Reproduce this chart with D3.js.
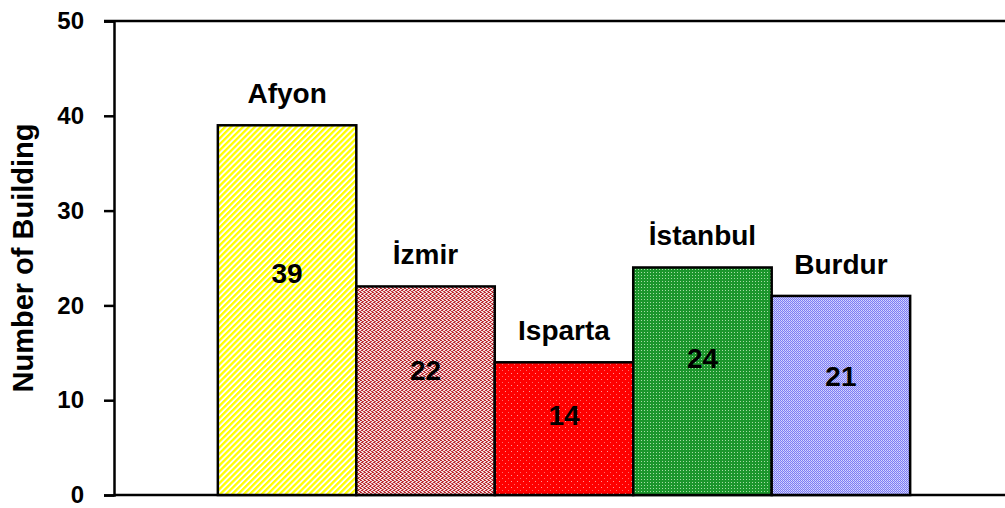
<!DOCTYPE html>
<html>
<head>
<meta charset="utf-8">
<script src="https://cdn.jsdelivr.net/npm/d3@7"></script>
<style>
  body { margin: 0; background: #fff; }
  svg { display: block; font-family: "Liberation Sans", Arial, sans-serif; }
</style>
</head>
<body>
<svg id="chart"></svg>
<script>
// data
const cities = ["Afyon", "İzmir", "Isparta", "İstanbul", "Burdur"];
const buildings = [39, 22, 14, 24, 21];
const yTicks = [0, 10, 20, 30, 40, 50];

const width = 1005;
const height = 508;
const margin = { top: 21, right: -9, bottom: 13, left: 114 };

const svg = d3.select("#chart").attr("width", width).attr("height", height);
const defs = svg.append("defs");

// fill patterns, roughly like the old excel ones
// yellow diagonal stripes
const p0 = defs.append("pattern").attr("id", "pat0").attr("patternUnits", "userSpaceOnUse")
  .attr("width", 4.2).attr("height", 4.2).attr("patternTransform", "rotate(45)");
p0.append("rect").attr("width", 4.2).attr("height", 4.2).attr("fill", "#ffffff");
p0.append("rect").attr("width", 2.3).attr("height", 4.2).attr("fill", "#ffff00");

// dark red / white brick-ish
const p1 = defs.append("pattern").attr("id", "pat1").attr("patternUnits", "userSpaceOnUse")
  .attr("width", 4).attr("height", 4);
p1.append("rect").attr("width", 4).attr("height", 4).attr("fill", "#f4dede");
p1.append("rect").attr("x", 0).attr("y", 0).attr("width", 2).attr("height", 1).attr("fill", "#b8242c");
p1.append("rect").attr("x", 2).attr("y", 1).attr("width", 2).attr("height", 1).attr("fill", "#c43a40");
p1.append("rect").attr("x", 1).attr("y", 2).attr("width", 2).attr("height", 1).attr("fill", "#b8242c");
p1.append("rect").attr("x", 3).attr("y", 3).attr("width", 1).attr("height", 1).attr("fill", "#c43a40");
p1.append("rect").attr("x", 0).attr("y", 3).attr("width", 1).attr("height", 1).attr("fill", "#c43a40");

// red with sparse light dots
const p2 = defs.append("pattern").attr("id", "pat2").attr("patternUnits", "userSpaceOnUse")
  .attr("width", 6).attr("height", 6);
p2.append("rect").attr("width", 6).attr("height", 6).attr("fill", "#ff0000");
p2.append("rect").attr("x", 1).attr("y", 1).attr("width", 1).attr("height", 1).attr("fill", "#ff9a9a");
p2.append("rect").attr("x", 4).attr("y", 4).attr("width", 1).attr("height", 1).attr("fill", "#ff6a6a");

// green grid
const p3 = defs.append("pattern").attr("id", "pat3").attr("patternUnits", "userSpaceOnUse")
  .attr("width", 3).attr("height", 3);
p3.append("rect").attr("width", 3).attr("height", 3).attr("fill", "#1c962c");
p3.append("rect").attr("x", 2).attr("y", 2).attr("width", 1).attr("height", 1).attr("fill", "#a6dca6");

// blue checker
const p4 = defs.append("pattern").attr("id", "pat4").attr("patternUnits", "userSpaceOnUse")
  .attr("width", 2).attr("height", 2);
p4.append("rect").attr("width", 2).attr("height", 2).attr("fill", "#7c7cf4");
p4.append("rect").attr("x", 1).attr("y", 0).attr("width", 1).attr("height", 1).attr("fill", "#d8d8ff");
p4.append("rect").attr("x", 0).attr("y", 1).attr("width", 1).attr("height", 1).attr("fill", "#c4c4fc");

const x = d3.scaleBand()
  .domain(cities)
  .range([margin.left, width - margin.right])
  .paddingInner(0)
  .paddingOuter(0.75);

const y = d3.scaleLinear()
  .domain([0, 50])
  .range([height - margin.bottom, margin.top]);

// frame top + bottom lines
svg.append("line")
  .attr("x1", margin.left - 10).attr("x2", width)
  .attr("y1", y(50)).attr("y2", y(50))
  .attr("stroke", "#000").attr("stroke-width", 2.5);
svg.append("line")
  .attr("x1", margin.left).attr("x2", width)
  .attr("y1", y(0)).attr("y2", y(0))
  .attr("stroke", "#000").attr("stroke-width", 2.5);

// bars
svg.selectAll("rect.bar")
  .data(cities)
  .enter()
  .append("rect")
  .attr("class", "bar")
  .attr("x", (d) => x(d))
  .attr("y", (d, i) => y(buildings[i]))
  .attr("width", x.bandwidth())
  .attr("height", (d, i) => y(0) - y(buildings[i]))
  .attr("fill", (d, i) => `url(#pat${i})`)
  .attr("stroke", "#000")
  .attr("stroke-width", 2.5);

// city names above bars
svg.selectAll("text.city")
  .data(cities)
  .enter()
  .append("text")
  .attr("class", "city")
  .attr("x", (d) => x(d) + x.bandwidth() / 2)
  .attr("y", (d, i) => y(buildings[i]) - 22)
  .attr("text-anchor", "middle")
  .style("font-size", "28px")
  .style("font-weight", "bold")
  .text((d) => d);

// values inside bars
svg.selectAll("text.val")
  .data(cities)
  .enter()
  .append("text")
  .attr("class", "val")
  .attr("x", (d) => x(d) + x.bandwidth() / 2)
  .attr("y", (d, i) => y(buildings[i] * 0.6) + 10)
  .attr("text-anchor", "middle")
  .style("font-size", "28px")
  .style("font-weight", "bold")
  .text((d, i) => buildings[i]);

// y axis
const yAxis = d3.axisLeft(y).tickValues(yTicks).tickSize(10).tickPadding(20);
const gy = svg.append("g")
  .attr("transform", `translate(${margin.left}, 0)`)
  .call(yAxis);
gy.select(".domain").attr("stroke-width", 2.5);
gy.selectAll(".tick line").attr("stroke-width", 2.5);
gy.selectAll("text")
  .style("fill", "#000")
  .style("font-size", "24px")
  .style("font-weight", "bold")
  .style("font-family", "Liberation Sans, Arial, sans-serif");

// axis title
svg.append("text")
  .attr("transform", `translate(33, ${(y(0) + y(50)) / 2}) rotate(-90)`)
  .attr("text-anchor", "middle")
  .style("font-size", "29px")
  .style("font-weight", "bold")
  .text("Number of Building");
</script>
</body>
</html>
